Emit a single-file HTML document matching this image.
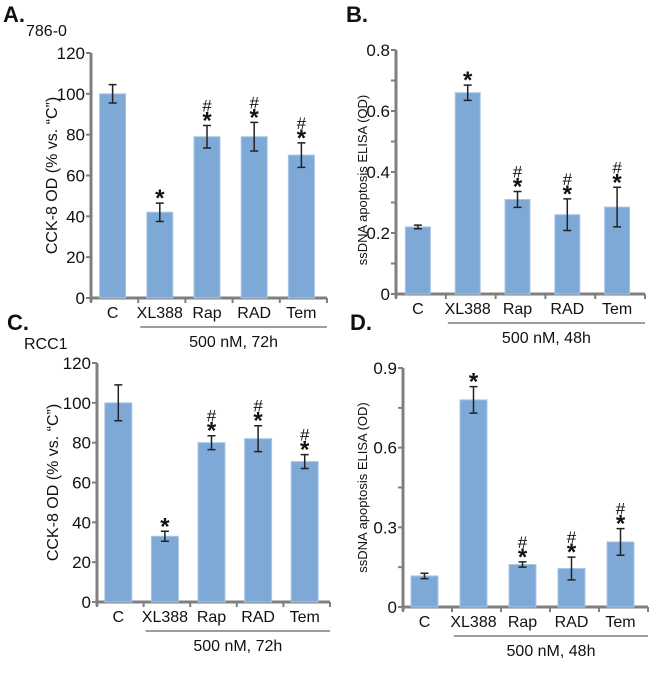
<!DOCTYPE html>
<html><head><meta charset="utf-8"><style>
body{margin:0;background:#fff;width:650px;height:671px;overflow:hidden}
svg text{font-family:"Liberation Sans",Arial,sans-serif;fill:#111}
</style></head><body>
<svg id="fig" width="650" height="671">
<text x="3" y="22" font-size="22" font-weight="bold">A.</text>
<text x="26" y="36" font-size="16">786-0</text>
<text x="346" y="22" font-size="22" font-weight="bold">B.</text>
<text x="7" y="330" font-size="22" font-weight="bold">C.</text>
<text x="24" y="349" font-size="16">RCC1</text>
<text x="350" y="330" font-size="22" font-weight="bold">D.</text>
</svg>
<script>
const categories=["C","XL388","Rap","RAD","Tem"];
const valsA=[100,42,79,79,70];
const errA=[4.5,4.5,5.5,7,6];
const sigA=["","*","#*","#*","#*"];
const ticksA=[0,20,40,60,80,100,120];
const valsB=[0.22,0.66,0.31,0.26,0.285];
const errB=[0.006,0.025,0.026,0.052,0.065];
const sigB=["","*","#*","#*","#*"];
const ticksB=[0,0.2,0.4,0.6,0.8];
const valsC=[100,33,80,82,70.5];
const errC=[9,2.5,3.5,6.5,3.5];
const sigC=["","*","#*","#*","#*"];
const ticksC=[0,20,40,60,80,100,120];
const valsD=[0.117,0.78,0.16,0.145,0.245];
const errD=[0.01,0.05,0.01,0.043,0.05];
const sigD=["","*","#*","#*","#*"];
const ticksD=[0,0.3,0.6,0.9];
const tickTextA=["0","20","40","60","80","100","120"];
const tickTextB=["0","0.2","0.4","0.6","0.8"];
const tickTextD=["0","0.3","0.6","0.9"];
const NS="http://www.w3.org/2000/svg";
const svg=document.getElementById('fig');
function mk(tag,attrs,txt){const e=document.createElementNS(NS,tag);for(const k in attrs)e.setAttribute(k,attrs[k]);if(txt!==undefined)e.textContent=txt;svg.appendChild(e);return e;}
function panel(p,vals,errs,sigs,ticks,tickText,ylab,note){
  const y=v=>p.y0-(v-ticks[0])/(ticks[ticks.length-1]-ticks[0])*(p.y0-p.yTop);
  const ax=mk('line',{x1:p.ax,y1:p.yTop,x2:p.ax,y2:p.y0+4,stroke:'#7f7f7f','stroke-width':3});
  
  
  const xa=mk('line',{x1:p.ax,y1:p.y0,x2:p.xEnd,y2:p.y0,stroke:'#7f7f7f','stroke-width':3});
  
  
  const all=p.minor?[]:ticks.slice();
  if(p.minor){for(let i=0;i<ticks.length-1;i++){all.push(ticks[i]);all.push((ticks[i]+ticks[i+1])/2);}all.push(ticks[ticks.length-1]);}
  all.forEach(t=>{mk('line',{x1:p.ax-5,y1:y(t),x2:p.ax,y2:y(t),stroke:'#7f7f7f','stroke-width':2});});
  ticks.forEach((t,i)=>{const tt=mk('text',{x:p.ax-6,y:y(t)+6,'font-size':17,'text-anchor':'end'},tickText[i]);
    
    });
  const yl=mk('text',{x:0,y:0,'font-size':p.ylfs,'text-anchor':'middle',transform:`translate(${p.ylx},${(p.y0+p.yTop)/2+p.yloff}) rotate(-90)`},ylab);
  
  
  const step=(p.xEnd-p.ax)/categories.length;
  for(let i=0;i<=categories.length;i++){mk('line',{x1:p.ax+step*i,y1:p.y0,x2:p.ax+step*i,y2:p.y0+5,stroke:'#7f7f7f','stroke-width':2});}
  categories.forEach((c,i)=>{
    const cx=p.ax+step*(i+0.5)+p.off;
    const b=mk('rect',{x:cx-p.bw/2,y:y(vals[i]),width:p.bw,height:p.y0-y(vals[i]),fill:'#7ea9d7',stroke:'#a9c6e6','stroke-width':1});
    
    
    const t=y(vals[i]+errs[i]),bt=y(vals[i]-errs[i]);
    const eb=mk('path',{d:`M${cx},${t}V${bt}M${cx-4},${t}H${cx+4}M${cx-4},${bt}H${cx+4}`,stroke:'#222','stroke-width':1.5,fill:'none'});
    
    
    if(sigs[i].includes('*')){const s=mk('text',{x:cx,y:t+3,'font-size':24,'text-anchor':'middle','font-weight':'bold'},'*');
      
      }
    if(sigs[i].includes('#')){const h=mk('text',{x:cx,y:t-14,'font-size':17,'text-anchor':'middle'},'#');
      
      }
    const cl=mk('text',{x:cx,y:p.y0+20,'font-size':16,'text-anchor':'middle'},c);
    
    
  });
  const ux=p.ax+step+2;
  const ul=mk('line',{x1:ux,y1:p.y0+29,x2:p.xEnd,y2:p.y0+29,stroke:'#7f7f7f','stroke-width':1.5});
  
  
  const nt=mk('text',{x:(ux+p.xEnd)/2,y:p.y0+49,'font-size':16,'text-anchor':'middle'},note);
  
  
}
panel({id:'panel-a',ax:91,y0:298,yTop:53,xEnd:327,bw:26,off:-2,ylx:57,ylfs:16,yloff:0,minor:false},valsA,errA,sigA,ticksA,tickTextA,'CCK-8 OD (% vs. \u201cC\u201d)','500 nM, 72h');
panel({id:'panel-b',ax:396,y0:294,yTop:50,xEnd:645,bw:25,off:-3,ylx:367,ylfs:13,yloff:8,minor:true},valsB,errB,sigB,ticksB,tickTextB,'ssDNA apoptosis ELISA (OD)','500 nM, 48h');
panel({id:'panel-c',ax:97,y0:602,yTop:363,xEnd:330,bw:27,off:-2,ylx:58,ylfs:16,yloff:0,minor:false},valsC,errC,sigC,ticksC,tickTextA,'CCK-8 OD (% vs. \u201cC\u201d)','500 nM, 72h');
panel({id:'panel-d',ax:403,y0:607,yTop:368,xEnd:648,bw:27,off:-3,ylx:367,ylfs:13,yloff:0,minor:true},valsD,errD,sigD,ticksD,tickTextD,'ssDNA apoptosis ELISA (OD)','500 nM, 48h');
</script>
</body></html>
